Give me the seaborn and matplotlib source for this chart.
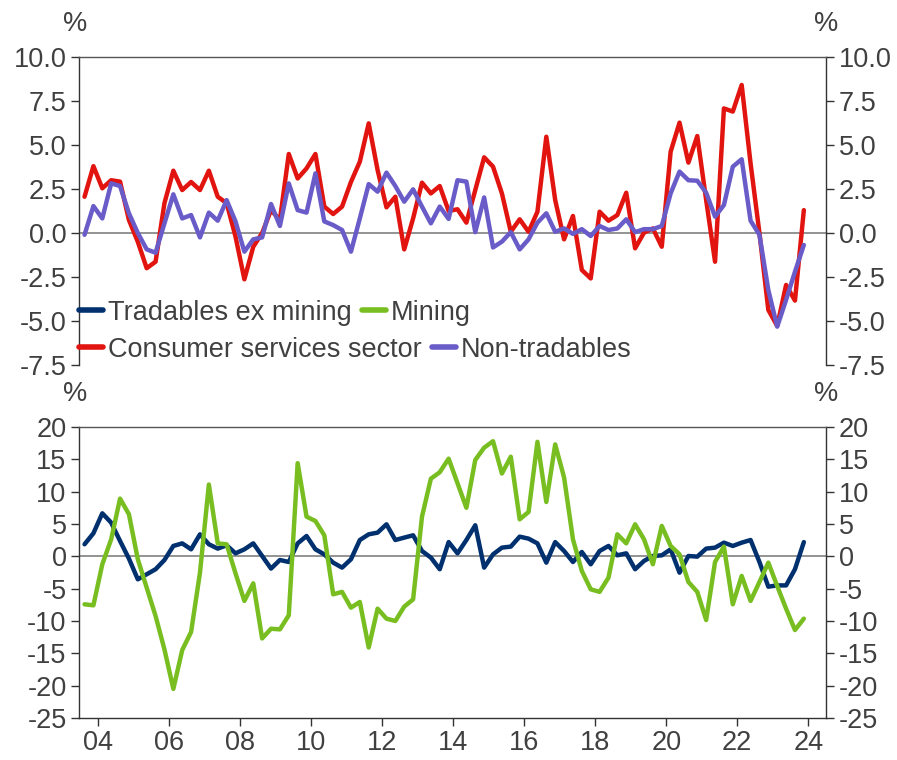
import numpy as np
import pandas as pd
import seaborn as sns
import matplotlib.pyplot as plt
from matplotlib.lines import Line2D

# quarterly, Q3 2003 .. Q4 2023 (plotted at quarter mid-points)
quarters = pd.period_range('2003Q3', '2023Q4', freq='Q')
years = quarters.year + (quarters.quarter - 0.5) / 4

consumer_services = [
    2.06, 3.8, 2.54, 3.0, 2.92, 0.74, -0.5, -2.0, -1.63, 1.7,
    3.54, 2.44, 2.9, 2.44, 3.54, 2.06, 1.7, -0.2, -2.63, -0.78,
    0.0, 1.3, 0.74, 4.49, 3.1, 3.67, 4.49, 1.5, 1.08, 1.5,
    2.9, 4.05, 6.23, 3.58, 1.46, 2.06, -0.93, 0.83, 2.86, 2.25,
    2.67, 1.25, 1.35, 0.59, 2.44, 4.3, 3.77, 2.25, 0.07, 0.78,
    0.07, 1.21, 5.47, 1.87, -0.36, 0.97, -2.1, -2.58, 1.21, 0.7,
    1.02, 2.29, -0.87, 0.02, 0.26, -0.78, 4.62, 6.27, 4.0, 5.51,
    1.87, -1.63, 7.08, 6.9, 8.41, 3.96, 0.0, -4.37, -5.28, -2.95,
    -3.84, 1.3,
]
non_tradables = [
    -0.1, 1.53, 0.83, 2.82, 2.67, 1.12, 0.0, -0.93, -1.12, 0.55,
    2.2, 0.83, 1.02, -0.25, 1.16, 0.7, 1.87, 0.66, -1.06, -0.36,
    -0.25, 1.65, 0.4, 2.82, 1.3, 1.16, 3.39, 0.66, 0.45, 0.17,
    -1.06, 0.83, 2.78, 2.35, 3.43, 2.67, 1.78, 2.48, 1.5, 0.55,
    1.5, 0.8, 3.0, 2.92, 0.05, 2.02, -0.82, -0.49, 0.05, -0.93,
    -0.36, 0.59, 1.12, 0.07, 0.26, -0.05, 0.22, -0.17, 0.4, 0.17,
    0.26, 0.78, 0.05, 0.22, 0.22, 0.4, 2.25, 3.49, 3.0, 2.97,
    2.29, 0.93, 1.59, 3.77, 4.19, 0.7, -0.1, -3.24, -5.32, -3.8,
    -2.2, -0.68,
]
tradables_ex_mining = [
    1.86, 3.56, 6.65, 5.2, 2.37, -0.36, -3.56, -2.78, -2.0, -0.57,
    1.6, 2.0, 1.08, 3.4, 1.86, 1.19, 1.7, 0.46, 1.08, 2.0,
    0.05, -1.9, -0.57, -0.88, 2.0, 3.14, 1.08, 0.3, -0.98, -1.75,
    -0.46, 2.52, 3.4, 3.66, 4.95, 2.52, 2.89, 3.25, 0.82, -0.2,
    -2.0, 2.2, 0.46, 2.52, 4.8, -1.75, 0.3, 1.34, 1.5, 3.04,
    2.73, 2.0, -0.98, 2.2, 0.82, -0.88, 0.67, -1.24, 0.82, 1.6,
    0.15, 0.46, -2.0, -0.72, 0.05, 0.15, 1.08, -2.53, 0.05, -0.05,
    1.19, 1.34, 2.11, 1.6, 2.11, 2.52, -0.88, -4.7, -4.5, -4.5,
    -2.0, 2.2,
]
mining = [
    -7.42, -7.58, -1.24, 2.63, 8.92, 6.5, -0.46, -4.85, -9.23, -14.4,
    -20.5, -14.5, -11.7, -2.53, 11.1, 2.0, 1.86, -2.63, -6.9, -4.18,
    -12.7, -11.2, -11.3, -9.12, 14.4, 6.13, 5.46, 3.25, -5.88, -5.5,
    -7.94, -7.06, -14.1, -8.1, -9.64, -10.0, -7.78, -6.65, 6.13, 12.0,
    13.0, 15.1, 11.3, 7.5, 14.9, 16.8, 17.8, 12.8, 15.4, 5.72,
    6.86, 17.7, 8.4, 17.3, 12.2, 2.63, -2.27, -5.1, -5.5, -3.3,
    3.4, 2.0, 4.95, 2.63, -1.24, 4.7, 1.6, 0.3, -3.97, -5.5,
    -9.85, -0.88, 1.5, -7.42, -3.04, -6.9, -3.97, -0.98, -4.6, -8.1,
    -11.4, -9.64,
]

top_ticks = [-7.5, -5.0, -2.5, 0.0, 2.5, 5.0, 7.5, 10.0]
bottom_ticks = [-25, -20, -15, -10, -5, 0, 5, 10, 15, 20]
x_ticks = [2004, 2006, 2008, 2010, 2012, 2014, 2016, 2018, 2020, 2022, 2024]
x_labels = ['04', '06', '08', '10', '12', '14', '16', '18', '20', '22', '24']

colors = {
    'Tradables ex mining': '#00306E',
    'Mining': '#78BE21',
    'Consumer services sector': '#E1140F',
    'Non-tradables': '#6A5CC8',
}

df = pd.DataFrame({
    'year': years,
    'Consumer services sector': consumer_services,
    'Non-tradables': non_tradables,
    'Tradables ex mining': tradables_ex_mining,
    'Mining': mining,
})

sns.set_theme(style='white')
plt.rcParams['font.family'] = ['Liberation Sans', 'DejaVu Sans']
text_col = '#404040'
fs = 19.5

fig = plt.figure(figsize=(8.97, 7.6), dpi=100)
ax1 = fig.add_axes([0.0881, 0.5197, 0.8328, 0.4053])
ax2 = fig.add_axes([0.0881, 0.0553, 0.8328, 0.3829])

lw = 3.2
for name in ['Consumer services sector', 'Non-tradables']:
    sns.lineplot(data=df, x='year', y=name, ax=ax1, color=colors[name], lw=lw)
for name in ['Tradables ex mining', 'Mining']:
    sns.lineplot(data=df, x='year', y=name, ax=ax2, color=colors[name], lw=lw)

for ax, ticks in [(ax1, top_ticks), (ax2, bottom_ticks)]:
    ax.axhline(0, color='#808080', lw=1.2, zorder=1)
    ax.set_xlim(2003.47, 2024.5)
    ax.set_ylim(ticks[0], ticks[-1])
    ax.set_yticks(ticks)
    ax.set_xlabel('')
    ax.set_ylabel('')
    ax.tick_params(axis='y', which='both', left=True, right=True,
                   labelleft=True, labelright=True, direction='out',
                   length=6, width=1, color='#333333',
                   labelsize=fs, labelcolor=text_col, pad=3)
    for s in ax.spines.values():
        s.set_color('#333333')
        s.set_linewidth(1)

ax1.set_yticklabels([f'{t:.1f}' for t in top_ticks])
ax1.set_xticks([])
ax1.spines['bottom'].set_visible(False)
ax1.spines['top'].set_color('#555555')

ax2.set_yticklabels([str(t) for t in bottom_ticks])
ax2.set_xticks(x_ticks)
ax2.set_xticklabels(x_labels)
ax2.tick_params(axis='x', bottom=True, direction='out', length=6, width=1,
                color='#333333', labelsize=fs, labelcolor=text_col, pad=3)
ax2.spines['top'].set_color('#555555')

# legend laid out row by row, as in the original
def handle(name):
    return Line2D([], [], color=colors[name], lw=4)

leg_kw = dict(ncol=2, frameon=False, fontsize=fs, handlelength=0.9,
              handletextpad=0.18, columnspacing=0.35, borderaxespad=0,
              borderpad=0, labelcolor=text_col)
row1 = ['Tradables ex mining', 'Mining']
row2 = ['Consumer services sector', 'Non-tradables']
leg1 = ax1.legend([handle(n) for n in row1], row1, loc='center left',
                  bbox_to_anchor=(0.0, 0.17), **leg_kw)
ax1.add_artist(leg1)
ax1.legend([handle(n) for n in row2], row2, loc='center left',
           bbox_to_anchor=(0.0, 0.05), **leg_kw)

for y in (0.968, 0.482):
    fig.text(0.0836, y, '%', fontsize=fs, color=text_col, ha='center', va='center')
    fig.text(0.921, y, '%', fontsize=fs, color=text_col, ha='center', va='center')

fig.savefig('out.png', dpi=100)
